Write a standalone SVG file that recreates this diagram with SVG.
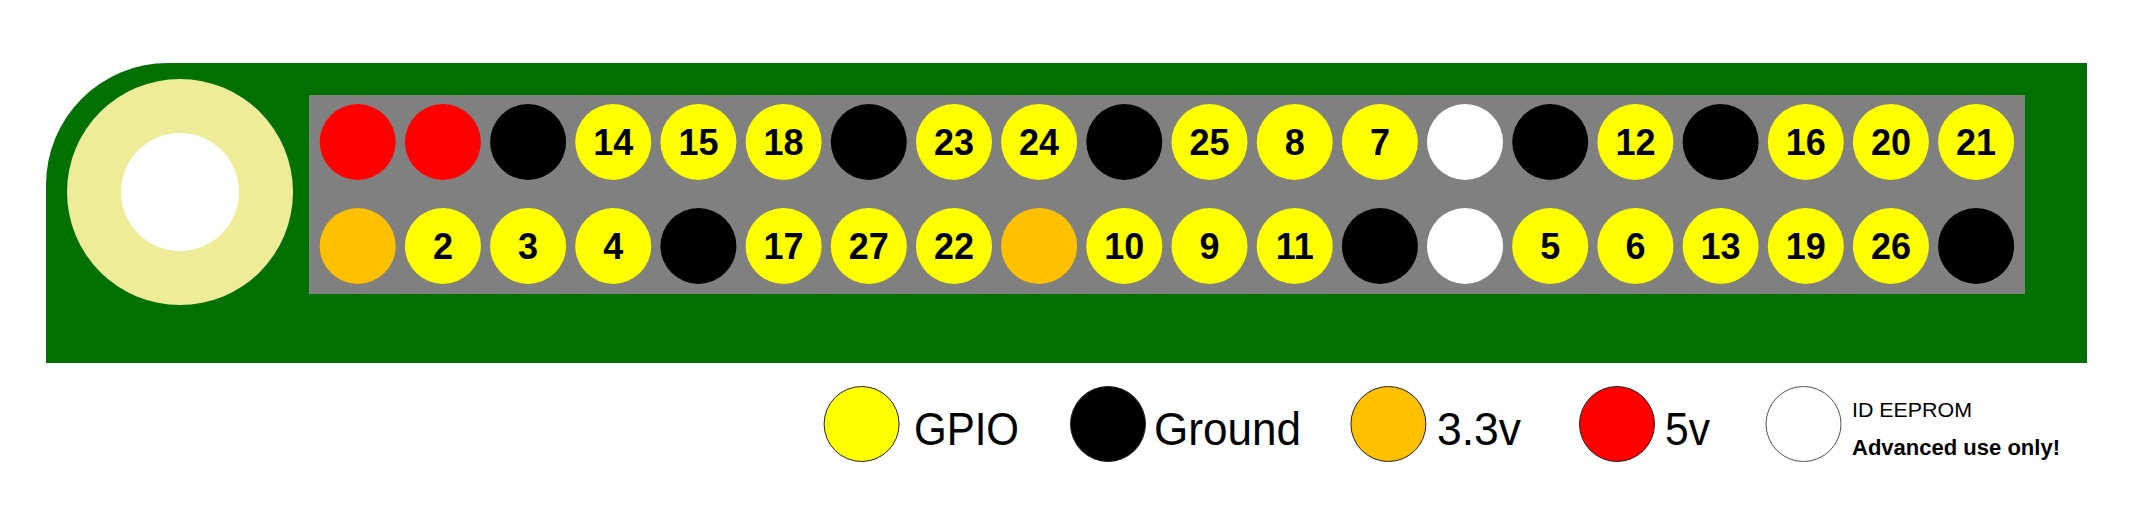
<svg xmlns="http://www.w3.org/2000/svg" width="2133" height="517" viewBox="0 0 2133 517">
<style>
.pin{stroke:none}
.y{fill:#FFFF00}.k{fill:#000000}.r{fill:#FF0000}.o{fill:#FFC000}.w{fill:#FFFFFF}
.num{font-family:"Liberation Sans",Arial,sans-serif;font-weight:bold;font-size:36px;fill:#000;text-anchor:middle}
.leg{stroke:#222;stroke-width:1}
.lt{font-family:"Liberation Sans",Arial,sans-serif;font-size:46px;fill:#000}
.st{font-family:"Liberation Sans",Arial,sans-serif;font-size:21px;fill:#000}
.sb{font-family:"Liberation Sans",Arial,sans-serif;font-size:22px;font-weight:bold;fill:#000}
</style>
<rect x="0" y="0" width="2133" height="517" fill="#FFFFFF"/>
<g id="board">
<path d="M46,363 V185 A122,122 0 0 1 168,63 H2087 V363 Z" fill="#007000"/>
<circle cx="180" cy="192" r="113" fill="#EFEC98"/>
<circle cx="180" cy="192" r="59" fill="#FFFFFF"/>
<rect x="309" y="95" width="1716" height="199" fill="#808080"/>
</g>
<g id="pins-top">
<circle class="pin r" cx="357.7" cy="142" r="38"/>
<circle class="pin r" cx="442.9" cy="142" r="38"/>
<circle class="pin k" cx="528.1" cy="142" r="38"/>
<g id="pin-14"><circle class="pin y" cx="613.2" cy="142" r="38"/><text class="num" x="613.2" y="155">14</text></g>
<g id="pin-15"><circle class="pin y" cx="698.4" cy="142" r="38"/><text class="num" x="698.4" y="155">15</text></g>
<g id="pin-18"><circle class="pin y" cx="783.6" cy="142" r="38"/><text class="num" x="783.6" y="155">18</text></g>
<circle class="pin k" cx="868.8" cy="142" r="38"/>
<g id="pin-23"><circle class="pin y" cx="954" cy="142" r="38"/><text class="num" x="954" y="155">23</text></g>
<g id="pin-24"><circle class="pin y" cx="1039.1" cy="142" r="38"/><text class="num" x="1039.1" y="155">24</text></g>
<circle class="pin k" cx="1124.3" cy="142" r="38"/>
<g id="pin-25"><circle class="pin y" cx="1209.5" cy="142" r="38"/><text class="num" x="1209.5" y="155">25</text></g>
<g id="pin-8"><circle class="pin y" cx="1294.7" cy="142" r="38"/><text class="num" x="1294.7" y="155">8</text></g>
<g id="pin-7"><circle class="pin y" cx="1379.9" cy="142" r="38"/><text class="num" x="1379.9" y="155">7</text></g>
<circle class="pin w" cx="1465" cy="142" r="38"/>
<circle class="pin k" cx="1550.2" cy="142" r="38"/>
<g id="pin-12"><circle class="pin y" cx="1635.4" cy="142" r="38"/><text class="num" x="1635.4" y="155">12</text></g>
<circle class="pin k" cx="1720.6" cy="142" r="38"/>
<g id="pin-16"><circle class="pin y" cx="1805.8" cy="142" r="38"/><text class="num" x="1805.8" y="155">16</text></g>
<g id="pin-20"><circle class="pin y" cx="1890.9" cy="142" r="38"/><text class="num" x="1890.9" y="155">20</text></g>
<g id="pin-21"><circle class="pin y" cx="1976.1" cy="142" r="38"/><text class="num" x="1976.1" y="155">21</text></g>
</g>
<g id="pins-bottom">
<circle class="pin o" cx="357.7" cy="246" r="38"/>
<g id="pin-2"><circle class="pin y" cx="442.9" cy="246" r="38"/><text class="num" x="442.9" y="259">2</text></g>
<g id="pin-3"><circle class="pin y" cx="528.1" cy="246" r="38"/><text class="num" x="528.1" y="259">3</text></g>
<g id="pin-4"><circle class="pin y" cx="613.2" cy="246" r="38"/><text class="num" x="613.2" y="259">4</text></g>
<circle class="pin k" cx="698.4" cy="246" r="38"/>
<g id="pin-17"><circle class="pin y" cx="783.6" cy="246" r="38"/><text class="num" x="783.6" y="259">17</text></g>
<g id="pin-27"><circle class="pin y" cx="868.8" cy="246" r="38"/><text class="num" x="868.8" y="259">27</text></g>
<g id="pin-22"><circle class="pin y" cx="954" cy="246" r="38"/><text class="num" x="954" y="259">22</text></g>
<circle class="pin o" cx="1039.1" cy="246" r="38"/>
<g id="pin-10"><circle class="pin y" cx="1124.3" cy="246" r="38"/><text class="num" x="1124.3" y="259">10</text></g>
<g id="pin-9"><circle class="pin y" cx="1209.5" cy="246" r="38"/><text class="num" x="1209.5" y="259">9</text></g>
<g id="pin-11"><circle class="pin y" cx="1294.7" cy="246" r="38"/><text class="num" x="1294.7" y="259">11</text></g>
<circle class="pin k" cx="1379.9" cy="246" r="38"/>
<circle class="pin w" cx="1465" cy="246" r="38"/>
<g id="pin-5"><circle class="pin y" cx="1550.2" cy="246" r="38"/><text class="num" x="1550.2" y="259">5</text></g>
<g id="pin-6"><circle class="pin y" cx="1635.4" cy="246" r="38"/><text class="num" x="1635.4" y="259">6</text></g>
<g id="pin-13"><circle class="pin y" cx="1720.6" cy="246" r="38"/><text class="num" x="1720.6" y="259">13</text></g>
<g id="pin-19"><circle class="pin y" cx="1805.8" cy="246" r="38"/><text class="num" x="1805.8" y="259">19</text></g>
<g id="pin-26"><circle class="pin y" cx="1890.9" cy="246" r="38"/><text class="num" x="1890.9" y="259">26</text></g>
<circle class="pin k" cx="1976.1" cy="246" r="38"/>
</g>
<g id="connectors"></g>
<g id="legend">
<g id="legend-gpio"><circle class="leg y" cx="861.6" cy="424" r="37.5"/><text class="lt" x="914" y="445" textLength="105" lengthAdjust="spacingAndGlyphs">GPIO</text></g>
<g id="legend-ground"><circle class="leg k" cx="1108" cy="424" r="37.5"/><text class="lt" x="1154" y="445" textLength="147" lengthAdjust="spacingAndGlyphs">Ground</text></g>
<g id="legend-33v"><circle class="leg o" cx="1388.4" cy="424" r="37.5"/><text class="lt" x="1437" y="445" textLength="84" lengthAdjust="spacingAndGlyphs">3.3v</text></g>
<g id="legend-5v"><circle class="leg r" cx="1617" cy="424" r="37.5"/><text class="lt" x="1665" y="445" textLength="45" lengthAdjust="spacingAndGlyphs">5v</text></g>
<g id="legend-eeprom"><circle cx="1803.5" cy="424" r="37.5" fill="#FFFFFF" stroke="#555" stroke-width="1"/><text class="st" x="1852" y="417" textLength="120" lengthAdjust="spacingAndGlyphs">ID EEPROM</text><text class="sb" x="1852" y="455" textLength="208" lengthAdjust="spacingAndGlyphs">Advanced use only!</text></g>
</g>
</svg>
